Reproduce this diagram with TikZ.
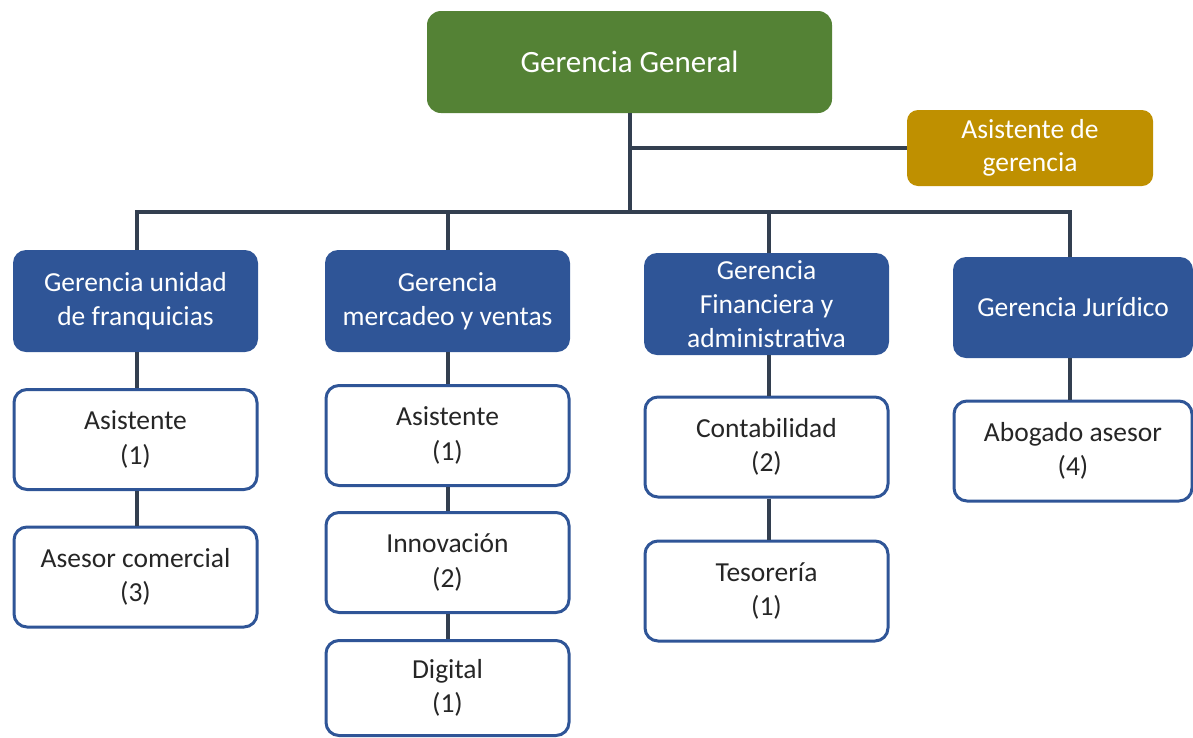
\documentclass[tikz,border=0pt]{standalone}
\usepackage{fontspec}
\setmainfont{Carlito}
\definecolor{ggreen}{HTML}{548235}
\definecolor{ggold}{HTML}{BF9000}
\definecolor{gblue}{HTML}{2F5597}
\definecolor{gline}{HTML}{333F50}
\definecolor{gtext}{HTML}{262626}
\begin{document}
\begin{tikzpicture}[x=1pt,y=-1pt,
  base/.style={inner sep=0pt, align=center, rounded corners=13pt},
  topbox/.style={base, fill=ggreen, text=white, font=\fontsize{31}{37}\selectfont},
  assbox/.style={base, fill=ggold, text=white, font=\fontsize{27.5}{33.5}\selectfont, minimum width=246pt, minimum height=76pt, rounded corners=11pt},
  mgrbox/.style={base, fill=gblue, text=white, font=\fontsize{27.5}{34}\selectfont, minimum width=245pt, minimum height=102pt},
  unitbox/.style={base, draw=gblue, line width=3pt, fill=white, text=gtext, font=\fontsize{27.5}{34.5}\selectfont, minimum width=243pt, minimum height=100pt},
  conn/.style={draw=gline, line width=3.2pt}
]
\useasboundingbox (0,0) rectangle (1193,737);

% nodes
\node[topbox, minimum width=405pt, minimum height=102pt, rounded corners=14pt] (gg) at (629.5,62) {Gerencia General};
\node[assbox] (ag) at (1030,148) {Asistente de\\gerencia};

\node[mgrbox] (b1) at (135.5,301) {Gerencia unidad\\de franquicias};
\node[mgrbox] (b2) at (447.5,301) {Gerencia\\mercadeo y ventas};
\node[mgrbox] (b3) at (766.5,304) {Gerencia\\Financiera y\\administrativa};
\node[mgrbox, minimum width=240pt, minimum height=101pt] (b4) at (1073,307.5) {Gerencia Jurídico};

\node[unitbox] (w1a) at (135.5,439.5) {Asistente\\(1)};
\node[unitbox] (w1b) at (135.5,577) {Asesor comercial\\(3)};
\node[unitbox] (w2a) at (447.5,435.5) {Asistente\\(1)};
\node[unitbox] (w2b) at (447.5,562.5) {Innovación\\(2)};
\node[unitbox, minimum height=95pt] (w2c) at (447.5,688) {Digital\\(1)};
\node[unitbox] (w3a) at (766.5,447) {Contabilidad\\(2)};
\node[unitbox] (w3b) at (766.5,591) {Tesorería\\(1)};
\node[unitbox, minimum width=238pt] (w4a) at (1073,451) {Abogado asesor\\(4)};

% coordinates of the bus
\coordinate (bus) at (630,212);
\coordinate (j1) at (137,212);
\coordinate (j2) at (448,212);
\coordinate (j3) at (769,212);
\coordinate (j4) at (1070,212);
\coordinate (ja) at (630,148);

\begin{scope}[on background layer/.style={}]
\end{scope}

% connectors (drawn behind by ordering: lines end at box borders)
\draw[conn] (gg.south -| bus) -- (bus);
\draw[conn] (ja) -- (ag.west);
\draw[conn, line cap=rect] (j1) -- (j4);
\draw[conn] (j1) -- (j1 |- b1.north);
\draw[conn] (j2) -- (j2 |- b2.north);
\draw[conn] (j3) -- (j3 |- b3.north);
\draw[conn] (j4) -- (j4 |- b4.north);

\draw[conn] (b1.south -| j1) -- (j1 |- w1a.north);
\draw[conn] (w1a.south -| j1) -- (j1 |- w1b.north);
\draw[conn] (b2.south -| j2) -- (j2 |- w2a.north);
\draw[conn] (w2a.south -| j2) -- (j2 |- w2b.north);
\draw[conn] (w2b.south -| j2) -- (j2 |- w2c.north);
\draw[conn] (b3.south -| j3) -- (j3 |- w3a.north);
\draw[conn] (w3a.south -| j3) -- (j3 |- w3b.north);
\draw[conn] (b4.south -| j4) -- (j4 |- w4a.north);
\end{tikzpicture}
\end{document}
